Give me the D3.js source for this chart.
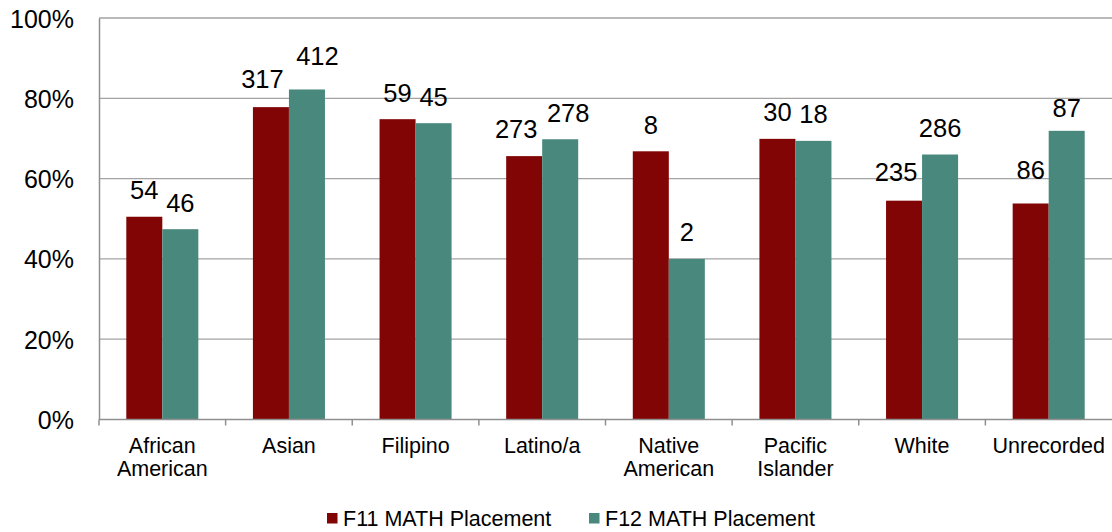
<!DOCTYPE html>
<html>
<head>
<meta charset="utf-8">
<script src="https://cdn.jsdelivr.net/npm/d3@7"></script>
<style>
  html, body { margin: 0; padding: 0; background: #fff; }
  svg { display: block; font-family: "Liberation Sans", Arial, sans-serif; }
</style>
</head>
<body>
<svg id="chart" width="1112" height="532"></svg>
<script>
/// data ///
const categories = ["African\nAmerican", "Asian", "Filipino", "Latino/a", "Native\nAmerican", "Pacific\nIslander", "White", "Unrecorded"];
const seriesNames = ["F11 MATH Placement", "F12 MATH Placement"];
// placement rate (%) per group
const f11Rates = [50.5, 77.8, 74.8, 65.6, 66.8, 69.9, 54.5, 53.8];
const f12Rates = [47.4, 82.2, 73.8, 69.8, 40.0, 69.4, 66.0, 71.9];
// headcounts shown above the bars
const f11Counts = [54, 317, 59, 273, 8, 30, 235, 86];
const f12Counts = [46, 412, 45, 278, 2, 18, 286, 87];
const yTicks = [0, 20, 40, 60, 80, 100];

/// constants ///
const width = 1112;
const height = 532;
const margin = {top: 18, right: 0, bottom: 112.5, left: 99};
const colours = ["#820505", "#49897d"];
const gridColour = "#a3a3a3";
const axisColour = "#8f8f8f";
const labelGap = 17.5;
// a few labels were dragged apart in the original so they don't collide
// key = category index + "-" + series index, value = [dx, dy]
const labelNudges = {
  "1-0": [-8.5, -1.5],
  "1-1": [10.5, -7],
  "3-0": [-8, -0.8],
  "3-1": [8, 0],
  "6-0": [-8, -2.5],
  "7-0": [0, -6.5],
  "7-1": [0, 4]
};

const svg = d3.select("#chart");

const rows = categories.map((c, i) => ({
  cat: c,
  values: [
    {i, s: 0, rate: f11Rates[i], n: f11Counts[i]},
    {i, s: 1, rate: f12Rates[i], n: f12Counts[i]}
  ]
}));

const nudge = d => labelNudges[d.i + "-" + d.s] || [0, 0];

/// scales ///
const x0 = d3.scaleBand()
  .domain(categories)
  .range([margin.left, width - margin.right])
  .padding(0);

const x1 = d3.scaleBand()
  .domain([0, 1])
  .range([0, x0.bandwidth()])
  .paddingInner(0)
  .paddingOuter(0.758);

const y = d3.scaleLinear()
  .domain([0, 100])
  .range([height - margin.bottom, margin.top]);

/// gridlines ///
svg.append("g")
  .selectAll("line")
  .data(yTicks.filter(d => d > 0))
  .join("line")
    .attr("x1", margin.left)
    .attr("x2", width - margin.right)
    .attr("y1", d => y(d))
    .attr("y2", d => y(d))
    .attr("stroke", gridColour)
    .attr("stroke-width", 1.3);

/// bars ///
const groups = svg.append("g")
  .selectAll("g")
  .data(rows)
  .join("g")
    .attr("transform", d => `translate(${x0(d.cat)},0)`);

groups.selectAll("rect")
  .data(d => d.values)
  .join("rect")
    .attr("x", d => x1(d.s))
    .attr("width", x1.bandwidth())
    .attr("y", d => y(d.rate))
    .attr("height", d => y(0) - y(d.rate))
    .attr("fill", d => colours[d.s]);

// count labels on top of the bars
groups.selectAll("text")
  .data(d => d.values)
  .join("text")
    .attr("x", d => x1(d.s) + x1.bandwidth() / 2 + nudge(d)[0])
    .attr("y", d => y(d.rate) - labelGap + nudge(d)[1])
    .attr("text-anchor", "middle")
    .attr("font-size", "25.5px")
    .attr("fill", "#000")
    .text(d => d.n);

/// axes ///
// y axis: line only, labels on the left
const yAxis = svg.append("g")
  .attr("transform", `translate(${margin.left},0)`)
  .call(d3.axisLeft(y).tickValues(yTicks).tickSize(0).tickPadding(25).tickFormat(d => d + "%"));
yAxis.select(".domain").attr("stroke", axisColour).attr("stroke-width", 1.5);
yAxis.selectAll("text")
  .attr("font-size", "25px")
  .attr("font-family", "Liberation Sans, Arial, sans-serif")
  .attr("fill", "#000")
  .attr("dy", "0.36em");

// x axis: ticks sit between categories
const xAxisG = svg.append("g")
  .attr("transform", `translate(0,${y(0)})`);
xAxisG.append("line")
  .attr("x1", margin.left)
  .attr("x2", width - margin.right)
  .attr("stroke", axisColour)
  .attr("stroke-width", 1.5);
xAxisG.selectAll(".tick-mark")
  .data(categories)
  .join("line")
  .classed("tick-mark", true)
    .attr("x1", d => x0(d))
    .attr("x2", d => x0(d))
    .attr("y1", 0)
    .attr("y2", 6)
    .attr("stroke", axisColour)
    .attr("stroke-width", 1.5);

const xLabels = xAxisG.selectAll(".x-label")
  .data(categories)
  .join("text")
  .classed("x-label", true)
    .attr("text-anchor", "middle")
    .attr("font-size", "21.5px")
    .attr("fill", "#000")
    .attr("transform", d => `translate(${x0(d) + x0.bandwidth() / 2},${33.5})`);

xLabels.selectAll("tspan")
  .data(d => d.split("\n"))
  .join("tspan")
    .attr("x", 0)
    .attr("y", (d, i) => i * 23.4)
    .text(d => d);

/// legend ///
const legendX = [327, 589];
const legend = svg.append("g")
  .selectAll("g")
  .data(seriesNames)
  .join("g")
    .attr("transform", (d, i) => `translate(${legendX[i]},${513})`);

legend.append("rect")
  .attr("width", 10.5)
  .attr("height", 10.5)
  .attr("fill", (d, i) => colours[i]);

legend.append("text")
  .attr("x", 16)
  .attr("y", 12.5)
  .attr("font-size", "21.5px")
  .attr("fill", "#000")
  .text(d => d);
</script>
</body>
</html>
